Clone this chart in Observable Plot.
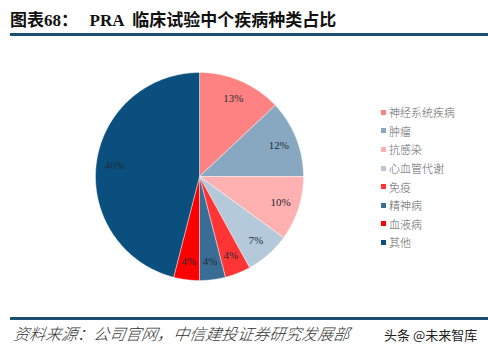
<!DOCTYPE html>
<html><head><meta charset="utf-8">
<script src="https://cdn.jsdelivr.net/npm/d3@7"></script>
<script src="https://cdn.jsdelivr.net/npm/@observablehq/plot@0.6"></script>
<style>
body{margin:0;background:#fff;width:488px;height:353px;overflow:hidden;position:relative;font-family:"Noto Sans CJK SC",sans-serif;}
#title{position:absolute;left:10px;top:6px;font-size:17px;font-weight:bold;color:#111;white-space:nowrap;letter-spacing:0px;}
#title .s{font-family:"Liberation Serif",serif;}
.rule{position:absolute;left:10px;right:0;height:3px;background:#1B4F72;}
#chart{position:absolute;left:0;top:0;}
#legend{position:absolute;left:381px;top:103px;font-size:11px;color:#666;font-family:"Noto Sans CJK SC",serif;font-weight:300;}
#legend div{height:18.6px;line-height:16px;display:flex;align-items:center;}
#legend span.sw{display:inline-block;width:5px;height:5px;margin-right:3px;}
#src{position:absolute;left:12px;top:321px;font-size:16px;letter-spacing:0px;font-style:italic;color:#333;font-weight:300;white-space:nowrap;font-family:"Noto Sans CJK SC",serif;transform:skewX(-8deg);transform-origin:left bottom;}
#wm{position:absolute;left:384px;top:325px;font-size:13px;color:#222;white-space:nowrap;}
</style></head>
<body>
<div id="title">图表<span class="s">68</span>：&nbsp;&nbsp; <span class="s">PRA</span>&nbsp; 临床试验中个疾病种类占比</div>
<div class="rule" style="top:33px"></div>
<div id="chart"></div>
<div id="legend"></div>
<div class="rule" style="top:317px;height:3px"></div>
<div id="src">资料来源：公司官网，中信建投证券研究发展部</div>
<div id="wm">头条 @未来智库</div>
<script>
const categories = ["神经系统疾病","肿瘤","抗感染","心血管代谢","免疫","精神病","血液病","其他"];
const values = [13,12,10,7,4,4,4,46];
const colors = ["#FF8282","#88A8C2","#FFB0B0","#B4C9DA","#FF3535","#3A6D96","#FF0000","#0A4F7E"];

const pie = d3.pie().sort(null).value(d => d.value)(categories.map((c,i)=>({cat:c,value:values[i]})));
const pts = [];
const labels = [];
for (const a of pie) {
  const n = Math.max(2, Math.ceil((a.endAngle - a.startAngle) / 0.02));
  pts.push({cat:a.data.cat, x:0, y:0});
  for (let k=0;k<=n;k++){
    const t = a.startAngle + (a.endAngle - a.startAngle)*k/n;
    pts.push({cat:a.data.cat, x:Math.sin(t), y:Math.cos(t)});
  }
  pts.push({cat:a.data.cat, x:0, y:0});
  const m = (a.startAngle + a.endAngle)/2;
  const r = 0.82;
  labels.push({cat:a.data.cat, x:r*Math.sin(m), y:r*Math.cos(m), text:a.data.value + "%"});
}

const plot = Plot.plot({
  width: 488, height: 300,
  marginLeft: 95, marginRight: 185, marginTop: 72, marginBottom: 20,
  x: {domain:[-1,1], axis:null},
  y: {domain:[-1,1], axis:null},
  color: {domain: categories, range: colors},
  marks: [
    Plot.line(pts, {x:"x", y:"y", z:"cat", fill:"cat", stroke:"#fff", strokeWidth:0.6, strokeOpacity:0.7, curve:"linear"}),
    Plot.text(labels, {x:"x", y:"y", text:"text", fill:"#1E2A38", fontSize:11, fontFamily:"Liberation Serif, serif"})
  ]
});
document.getElementById("chart").appendChild(plot);

const leg = document.getElementById("legend");
categories.forEach((c,i)=>{
  const d = document.createElement("div");
  d.innerHTML = `<span class="sw" style="background:${colors[i]}"></span>${c}`;
  leg.appendChild(d);
});
</script>
</body></html>
